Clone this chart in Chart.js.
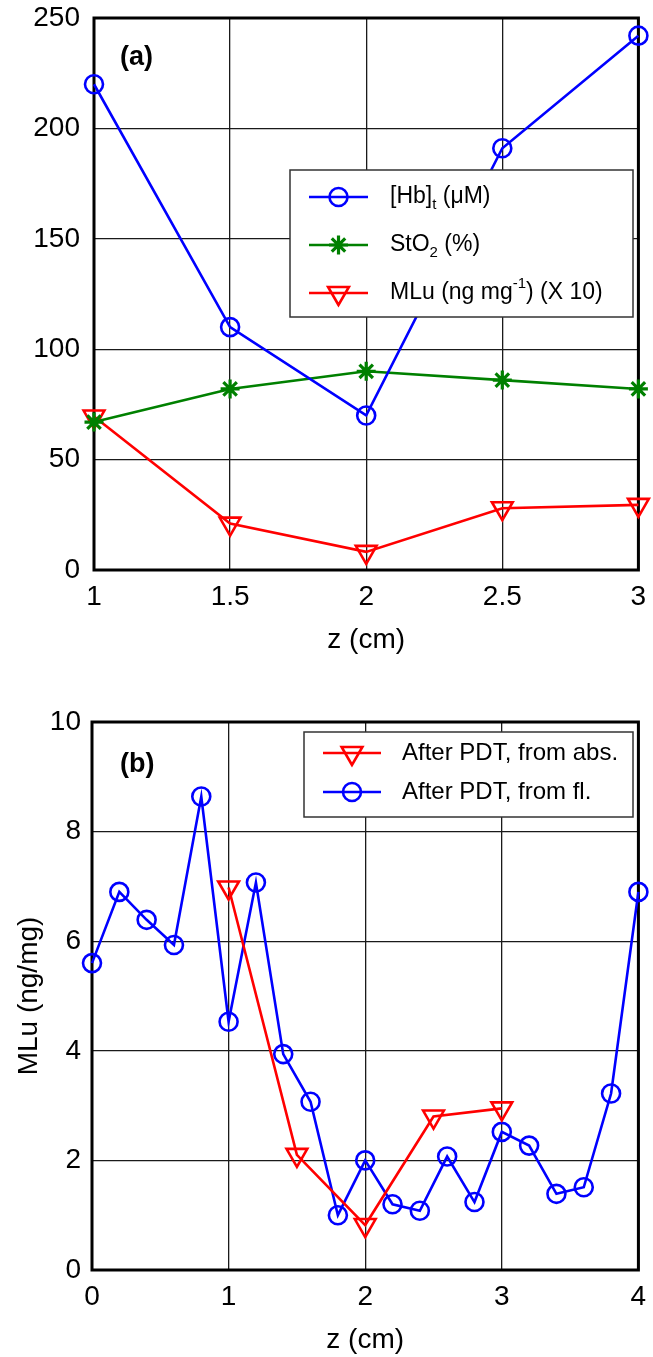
<!DOCTYPE html>
<html>
<head>
<meta charset="utf-8">
<script src="https://cdn.jsdelivr.net/npm/chart.js@4/dist/chart.umd.min.js"></script>
<style>
  html, body { margin: 0; padding: 0; background: #fff; }
  canvas { display: block; }
</style>
</head>
<body>
<canvas id="chartA" width="653" height="665"></canvas>
<canvas id="chartB" width="653" height="692"></canvas>
<script>
// (a) depth profiles
const zA = [1, 1.5, 2, 2.5, 3];
const hbTotal = [220, 110, 70, 191, 242];
const sto2 = [67, 82, 90, 86, 82];
const mluTimes10 = [69.5, 21, 8.2, 28, 29.5];
const labelsA = ['[Hb]_t (μM)', 'StO_2 (%)', 'MLu (ng mg^{-1}) (X 10)'];

// (b) MLu after PDT
const zAbs = [1, 1.5, 2, 2.5, 3];
const mluAbs = [6.98, 2.1, 0.82, 2.8, 2.95];
const zFl = [0, 0.2, 0.4, 0.6, 0.8, 1, 1.2, 1.4, 1.6, 1.8, 2, 2.2, 2.4, 2.6, 2.8, 3, 3.2, 3.4, 3.6, 3.8, 4];
const mluFl = [5.6, 6.9, 6.39, 5.93, 8.64, 4.53, 7.07, 3.94, 3.07, 1.0, 2.0, 1.2, 1.08, 2.07, 1.24, 2.52, 2.27, 1.39, 1.51, 3.22, 6.9];
const labelsB = ['After PDT, from abs.', 'After PDT, from fl.'];

const FONT = '"Liberation Sans", Arial, Helvetica, sans-serif';
Chart.defaults.font.family = FONT;
Chart.defaults.color = '#000';

const BLUE = '#0000ff', GREEN = '#008000', RED = '#ff0000';

const pts = (xs, ys) => xs.map((x, i) => ({ x: x, y: ys[i] }));

function series(label, xs, ys, color, style) {
  const d = {
    label: label,
    data: pts(xs, ys),
    borderColor: color,
    backgroundColor: color,
    borderWidth: 2.6,
    pointBorderColor: color,
    pointBackgroundColor: 'rgba(0,0,0,0)',
    pointBorderWidth: 2.6,
    pointStyle: style,
    pointRotation: 0,
    pointRadius: 9,
    tension: 0,
    clip: false
  };
  if (style === 'triangle') { d.pointRotation = 180; d.pointRadius = 12; }
  if (style === 'star') { d.pointRadius = 9.5; d.pointBorderWidth = 3.2; }
  return d;
}

// text with _x / _{..} subscripts and ^x / ^{..} superscripts
function drawRich(ctx, str, x, y, size) {
  const parts = str.split(/([_^](?:\{[^}]*\}|.))/);
  let cx = x;
  parts.forEach(p => {
    if (!p) return;
    let dy = 0, fs = size, t = p;
    if (p[0] === '_' || p[0] === '^') {
      t = p.slice(1).replace(/[{}]/g, '');
      fs = Math.round(size * 0.65);
      dy = p[0] === '_' ? size * 0.32 : -size * 0.4;
    }
    ctx.font = fs + 'px ' + FONT;
    ctx.fillText(t, cx, y + dy);
    cx += ctx.measureText(t).width;
  });
}

// plot frame, panel tag and boxed legend with line + marker samples
const panelDecor = {
  id: 'panelDecor',
  beforeDatasetsDraw(chart) {
    const { ctx, chartArea: a } = chart;
    ctx.save();
    ctx.strokeStyle = '#000';
    ctx.lineWidth = 3;
    ctx.strokeRect(a.left, a.top, a.right - a.left, a.bottom - a.top);
    ctx.restore();
  },
  afterDatasetsDraw(chart, args, opts) {
    const { ctx } = chart;
    ctx.save();
    ctx.fillStyle = '#000';
    ctx.textBaseline = 'middle';
    ctx.font = 'bold 27px ' + FONT;
    ctx.fillText(opts.tag, opts.tagX, opts.tagY);

    const L = opts.legend;
    ctx.fillStyle = '#fff';
    ctx.fillRect(L.x, L.y, L.w, L.h);
    ctx.strokeStyle = '#333';
    ctx.lineWidth = 1.5;
    ctx.strokeRect(L.x, L.y, L.w, L.h);

    L.order.forEach((di, row) => {
      const ds = chart.data.datasets[di];
      const y = L.rows[row];
      ctx.strokeStyle = ds.borderColor;
      ctx.lineWidth = ds.borderWidth;
      ctx.beginPath();
      ctx.moveTo(L.x0, y);
      ctx.lineTo(L.x1, y);
      ctx.stroke();
      ctx.fillStyle = 'rgba(0,0,0,0)';
      ctx.lineWidth = ds.pointBorderWidth;
      Chart.helpers.drawPoint(ctx, {
        pointStyle: ds.pointStyle,
        rotation: ds.pointRotation,
        radius: ds.pointRadius,
        borderWidth: ds.pointBorderWidth
      }, (L.x0 + L.x1) / 2, y);
      ctx.fillStyle = '#000';
      drawRich(ctx, L.labels[row], L.textX, y, L.fontSize);
    });
    ctx.restore();
  }
};

function axes(o) {
  return {
    x: {
      type: 'linear', min: o.xMin, max: o.xMax,
      afterFit: s => { s.height = o.xHeight; s.paddingLeft = 0; s.paddingRight = 0; },
      border: { display: false },
      grid: { color: '#1a1a1a', lineWidth: 1.3, drawTicks: false },
      ticks: { stepSize: o.xStep, padding: 10, font: { size: 28 }, color: '#000', callback: v => String(v) },
      title: { display: true, text: 'z (cm)', font: { size: 28 }, color: '#000', padding: { top: 0, bottom: o.xTitlePad } }
    },
    y: {
      min: o.yMin, max: o.yMax,
      afterFit: s => { s.width = o.yWidth; s.paddingTop = 0; s.paddingBottom = 0; },
      border: { display: false },
      grid: { color: '#1a1a1a', lineWidth: 1.3, drawTicks: false },
      ticks: { stepSize: o.yStep, padding: o.yPad, font: { size: 28 }, color: '#000', callback: v => String(v) },
      title: o.yTitle ? { display: true, text: o.yTitle, font: { size: 28 }, color: '#000', padding: { top: 12, bottom: 0 } } : { display: false }
    }
  };
}

new Chart(document.getElementById('chartA'), {
  type: 'line',
  data: {
    datasets: [
      series(labelsA[0], zA, hbTotal, BLUE, 'circle'),
      series(labelsA[1], zA, sto2, GREEN, 'star'),
      series(labelsA[2], zA, mluTimes10, RED, 'triangle')
    ]
  },
  options: {
    responsive: false,
    animation: false,
    devicePixelRatio: 1,
    layout: { padding: { top: 18, right: 9, left: 0, bottom: 0 } },
    scales: axes({ xMin: 1, xMax: 3, xStep: 0.5, yMin: 0, yMax: 250, yStep: 50, xHeight: 95, yWidth: 94, yPad: 14, xTitlePad: 8 }),
    plugins: {
      legend: { display: false },
      tooltip: { enabled: false },
      panelDecor: {
        tag: '(a)', tagX: 120, tagY: 58,
        legend: { x: 290, y: 170, w: 343, h: 147, rows: [197, 245, 293], x0: 309, x1: 368, textX: 390, fontSize: 23, order: [0, 1, 2], labels: labelsA }
      }
    }
  },
  plugins: [panelDecor]
});

new Chart(document.getElementById('chartB'), {
  type: 'line',
  data: {
    datasets: [
      series(labelsB[0], zAbs, mluAbs, RED, 'triangle'),
      series(labelsB[1], zFl, mluFl, BLUE, 'circle')
    ]
  },
  options: {
    responsive: false,
    animation: false,
    devicePixelRatio: 1,
    layout: { padding: { top: 57, right: 13, left: 0, bottom: 0 } },
    scales: axes({ xMin: 0, xMax: 4, xStep: 1, yMin: 0, yMax: 10, yStep: 2, xHeight: 87, yWidth: 92, yPad: 11, xTitlePad: 0, yTitle: 'MLu (ng/mg)' }),
    plugins: {
      legend: { display: false },
      tooltip: { enabled: false },
      panelDecor: {
        tag: '(b)', tagX: 120, tagY: 100,
        legend: { x: 304, y: 67, w: 329, h: 85, rows: [88, 127], x0: 323, x1: 381, textX: 402, fontSize: 24, order: [0, 1], labels: labelsB }
      }
    }
  },
  plugins: [panelDecor]
});
</script>
</body>
</html>
